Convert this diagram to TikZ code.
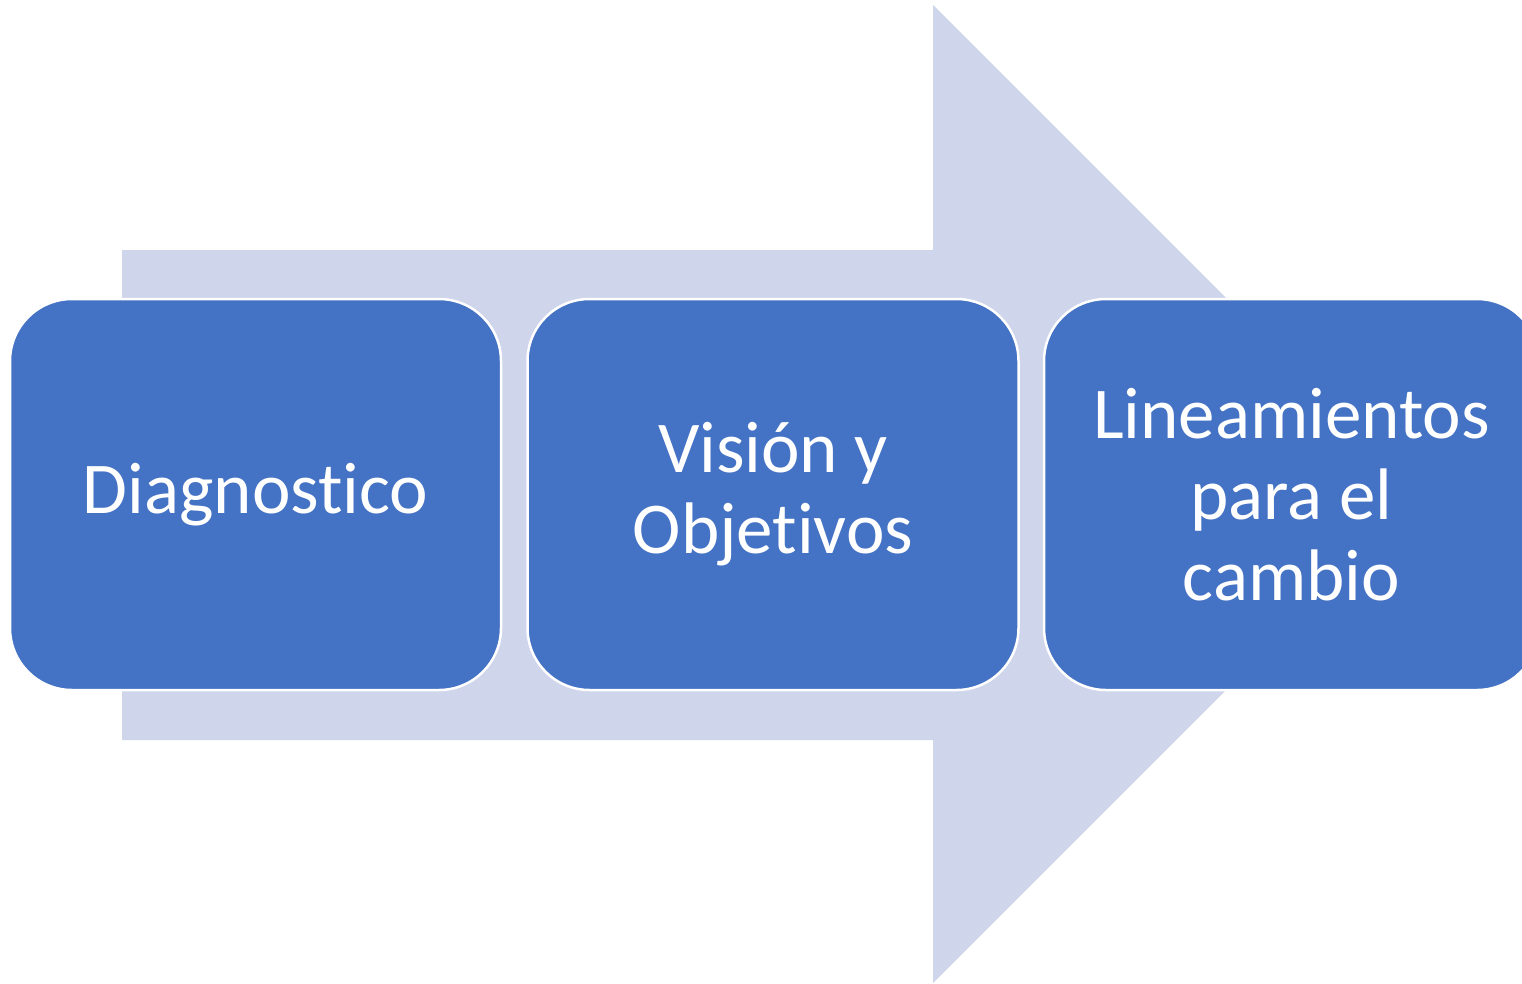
\documentclass[tikz,border=0pt]{standalone}
\usepackage{fontspec}
\setmainfont[Ligatures={NoCommon}]{Carlito}
\definecolor{boxblue}{HTML}{4472C4}
\definecolor{arrowfill}{HTML}{CFD5EA}
\begin{document}
\begin{tikzpicture}[x=1pt,y=-1pt,
  stepbox/.style={draw=white,line width=2.5pt,fill=boxblue,rounded corners=62pt,
    minimum width=491pt,minimum height=391pt,text=white,align=center,
    font=\fontsize{73}{81}\selectfont,inner sep=0pt},
  bigarrow/.style={fill=arrowfill,draw=none}]
\useasboundingbox (0,0) rectangle (1522,983);
\clip (0,0) rectangle (1522,983);
\fill[white] (0,0) rectangle (1522,983);
\path[bigarrow] (122,250) -- (933,250) -- (933,5) -- (1422,494) -- (933,983) -- (933,740) -- (122,740) -- cycle;
\node[stepbox] (diag) at (255.5,494.5) {\raisebox{-2pt}{Diagnostico}};
\node[stepbox] (vision) at (773,494.5) {Visión y\\Objetivos};
\node[stepbox,minimum width=495pt] (lin) at (1291.5,494.5) {Lineamientos\\para el\\cambio};
\end{tikzpicture}
\end{document}
